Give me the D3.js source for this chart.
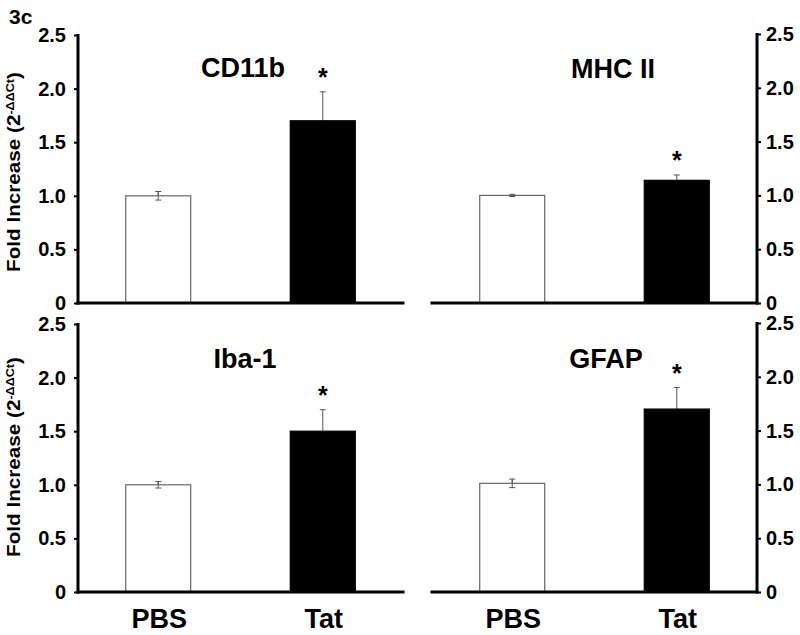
<!DOCTYPE html>
<html>
<head>
<meta charset="utf-8">
<script src="https://d3js.org/d3.v7.min.js"></script>
<title>3c</title>
<style>
body { margin: 0; background: #fff; }
svg { display: block; font-family: "Liberation Sans", Arial, sans-serif; font-weight: bold; }
</style>
</head>
<body>
<svg width="800" height="635"></svg>
<script>

// data
let markers = ["CD11b", "MHC II", "Iba-1", "GFAP"];
let groups = ["PBS", "Tat"];
let pbsMeans = [1.00, 1.00, 1.00, 1.01];
let pbsErr = [0.04, 0.01, 0.03, 0.04];
let tatMeans = [1.70, 1.14, 1.50, 1.70];
let tatErr = [0.27, 0.05, 0.20, 0.20];
let yTicks = [0, 0.5, 1.0, 1.5, 2.0, 2.5];
let yTickLabels = ["0", "0.5", "1.0", "1.5", "2.0", "2.5"];

// panel layout: left panels have axis on left, right panels on right
let panels = [
  {x0: 78, x1: 403, y0: 303, y1: 35, side: "left", tx: 243, ty: 77, showX: false},
  {x0: 432, x1: 757, y0: 303, y1: 34, side: "right", tx: 613, ty: 78, showX: false},
  {x0: 78, x1: 403, y0: 592, y1: 324, side: "left", tx: 245, ty: 368, showX: true},
  {x0: 432, x1: 757, y0: 592, y1: 323, side: "right", tx: 606, ty: 368, showX: true}
];

let svg = d3.select("svg");

svg.append("text")
  .attr("x", 9).attr("y", 24)
  .attr("font-size", 21)
  .text("3c");

panels.forEach(function(p, i) {
  let x = d3.scaleBand().domain(groups).range([p.x0, p.x1])
    .paddingInner(0.605).paddingOuter(0.29);
  let y = d3.scaleLinear().domain([0, 2.5]).range([p.y0, p.y1]);
  let g = svg.append("g");

  let means = [pbsMeans[i], tatMeans[i]];
  let errs = [pbsErr[i], tatErr[i]];

  // error bars first, so the black bar covers the lower half
  groups.forEach(function(gr, j) {
    let cx = x(gr) + x.bandwidth() / 2;
    let lo = means[j] - errs[j], hi = means[j] + errs[j];
    g.append("line")
      .attr("x1", cx).attr("x2", cx)
      .attr("y1", y(lo)).attr("y2", y(hi))
      .attr("stroke", "#555").attr("stroke-width", 1);
    [lo, hi].forEach(function(v) {
      g.append("line")
        .attr("x1", cx - 3).attr("x2", cx + 3)
        .attr("y1", y(v)).attr("y2", y(v))
        .attr("stroke", "#555").attr("stroke-width", 1);
    });
  });

  g.selectAll("rect.bar")
    .data(groups)
    .enter().append("rect")
    .attr("class", "bar")
    .attr("x", d => x(d))
    .attr("width", x.bandwidth())
    .attr("y", (d, j) => y(means[j]))
    .attr("height", (d, j) => y(0) - y(means[j]))
    .attr("fill", (d, j) => j == 0 ? "#fff" : "#000")
    .attr("stroke", (d, j) => j == 0 ? "#666" : "#000")
    .attr("stroke-width", 1.2);

  // PBS error bar lower half again, on top of the white bar
  let cx0 = x("PBS") + x.bandwidth() / 2;
  g.append("line")
    .attr("x1", cx0).attr("x2", cx0)
    .attr("y1", y(means[0] - errs[0])).attr("y2", y(means[0] + errs[0]))
    .attr("stroke", "#555").attr("stroke-width", 1);
  g.append("line")
    .attr("x1", cx0 - 3).attr("x2", cx0 + 3)
    .attr("y1", y(means[0] - errs[0])).attr("y2", y(means[0] - errs[0]))
    .attr("stroke", "#555").attr("stroke-width", 1);

  // asterisk over Tat
  let cx1 = x("Tat") + x.bandwidth() / 2;
  g.append("text")
    .attr("x", cx1).attr("y", y(means[1] + errs[1]) - 6)
    .attr("text-anchor", "middle")
    .attr("font-size", 25)
    .text("*");

  // title
  g.append("text")
    .attr("x", p.tx).attr("y", p.ty)
    .attr("text-anchor", "middle")
    .attr("font-size", 27)
    .text(markers[i]);

  // baseline
  g.append("line")
    .attr("x1", p.x0 - 1.5).attr("x2", p.x1 + 1.5)
    .attr("y1", y(0)).attr("y2", y(0))
    .attr("stroke", "#000").attr("stroke-width", 3);

  // y axis
  let axis = (p.side == "left" ? d3.axisLeft(y) : d3.axisRight(y))
    .tickValues(yTicks)
    .tickFormat((d, k) => yTickLabels[k])
    .tickSize(4).tickPadding(p.side == "left" ? 8 : 5);
  let ax = g.append("g")
    .attr("transform", "translate(" + (p.side == "left" ? p.x0 : p.x1) + ",0)")
    .call(axis);
  ax.select(".domain").remove();
  ax.selectAll(".tick line").attr("stroke", "#000").attr("stroke-width", 2);
  ax.selectAll(".tick text")
    .attr("font-family", "Liberation Sans, Arial, sans-serif")
    .attr("font-weight", "bold")
    .attr("font-size", 20)
    .attr("fill", "#000");
  g.append("line")
    .attr("x1", p.side == "left" ? p.x0 : p.x1).attr("x2", p.side == "left" ? p.x0 : p.x1)
    .attr("y1", y(2.5) - 1).attr("y2", y(0) + 1.5)
    .attr("stroke", "#000").attr("stroke-width", 3);

  // category labels
  if (p.showX) {
    g.selectAll("text.cat")
      .data(groups)
      .enter().append("text")
      .attr("class", "cat")
      .attr("x", d => x(d) + x.bandwidth() / 2 + 1)
      .attr("y", 628)
      .attr("text-anchor", "middle")
      .attr("font-size", 27)
      .text(d => d);
  }

  // y axis title on left panels, stretched along its length like the original
  if (p.side == "left") {
    let cy = i == 0 ? 172 : 457;
    let lg = svg.append("g")
      .attr("transform", "translate(20," + cy + ") rotate(-90)");
    let t = lg.append("text")
      .attr("text-anchor", "middle")
      .attr("font-size", 18);
    t.append("tspan").text("Fold Increase (2");
    t.append("tspan").attr("dy", -6).attr("font-size", 11).text("-ΔΔCt");
    t.append("tspan").attr("dy", 6).text(")");
    let len = t.node().getBBox().width;
    t.attr("transform", "scale(" + (200 / len) + ",1)");
  }
});

</script>
</body>
</html>
